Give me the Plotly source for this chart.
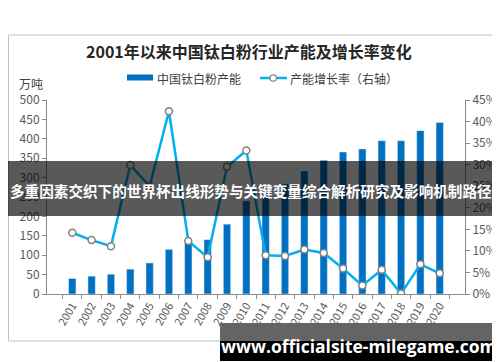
import plotly.graph_objects as go

years = [str(y) for y in range(2001, 2021)]
capacity = [40, 46, 51, 64, 80, 115, 131, 140, 180, 240, 261, 284, 317, 345, 366, 374, 395, 395, 421, 442]
growth = [0.142, 0.125, 0.111, 0.299, 0.25, 0.424, 0.123, 0.085, 0.295, 0.333,
          0.090, 0.088, 0.103, 0.095, 0.059, 0.0195, 0.056, 0.001, 0.069, 0.048]

title_text = "2001年以来中国钛白粉行业产能及增长率变化"
bar_name = "中国钛白粉产能"
line_name = "产能增长率（右轴）"
unit_text = "万吨"
banner_text = "多重因素交织下的世界杯出线形势与关键变量综合解析研究及影响机制路径"
wm_text = "www.officialsite-milegame.com"

W, H = 500, 362
L, R, T, B = 39, 43, 92, 76
PW, PH = W - L - R, H - T - B

def px(x):
    return (x - L) / PW

def py(y):
    return (H - B - y) / PH

FONT = "Noto Sans CJK SC, Noto Sans, sans-serif"
BAR_C = "#0070C0"
LINE_C = "#00B0F0"
AX_C = "#8c8c8c"
TXT_C = "#595959"

fig = go.Figure()
fig.add_trace(go.Bar(x=years, y=capacity, name=bar_name, marker_color=BAR_C,
                     yaxis="y", showlegend=False))
fig.add_trace(go.Scatter(x=years, y=growth, name=line_name, mode="lines+markers",
                         line=dict(color=LINE_C, width=2.5),
                         marker=dict(symbol="circle", size=7, color="white",
                                     line=dict(color="#808080", width=1.5)),
                         yaxis="y2", showlegend=False))

shapes = []
annotations = []

# outer border
shapes.append(dict(type="rect", xref="paper", yref="paper",
                   x0=px(0.5), x1=px(498), y0=py(27), y1=py(333),
                   line=dict(color="#c0c0c0", width=1), fillcolor="rgba(0,0,0,0)", layer="below"))

# title
annotations.append(dict(text="<b>" + title_text + "</b>", xref="paper", yref="paper",
                        x=px(241), y=py(43), showarrow=False,
                        font=dict(family=FONT, size=16, color="#262626"),
                        xanchor="center", yanchor="middle"))
# unit
annotations.append(dict(text=unit_text, xref="paper", yref="paper",
                        x=px(23), y=py(75), showarrow=False,
                        font=dict(family=FONT, size=12, color="#404040"),
                        xanchor="center", yanchor="middle"))

# legend (manual)
shapes.append(dict(type="rect", xref="paper", yref="paper",
                   x0=px(119), x1=px(145), y0=py(72.5), y1=py(66.5),
                   line=dict(width=0), fillcolor=BAR_C))
annotations.append(dict(text=bar_name, xref="paper", yref="paper",
                        x=px(147), y=py(70), showarrow=False, align="left",
                        font=dict(family=FONT, size=12, color="#404040"),
                        xanchor="left", yanchor="middle"))
shapes.append(dict(type="line", xref="paper", yref="paper",
                   x0=px(252), x1=px(279), y0=py(70), y1=py(70),
                   line=dict(color=LINE_C, width=2.5)))
shapes.append(dict(type="circle", xref="paper", yref="paper",
                   x0=px(262), x1=px(268.5), y0=py(73.2), y1=py(66.8),
                   line=dict(color="#808080", width=1.2), fillcolor="white"))
annotations.append(dict(text=line_name, xref="paper", yref="paper",
                        x=px(280), y=py(70), showarrow=False, align="left",
                        font=dict(family=FONT, size=12, color="#404040"),
                        xanchor="left", yanchor="middle"))

# banner overlay
shapes.append(dict(type="rect", xref="paper", yref="paper",
                   x0=px(0), x1=px(500), y0=py(208), y1=py(153),
                   line=dict(width=0), fillcolor="rgba(0,0,0,0.65)", layer="above"))
annotations.append(dict(text="<b>" + banner_text + "</b>", xref="paper", yref="paper",
                        x=px(243), y=py(182), showarrow=False,
                        font=dict(family=FONT, size=14.6, color="white"),
                        xanchor="center", yanchor="middle"))

# watermark
shapes.append(dict(type="rect", xref="paper", yref="paper",
                   x0=px(212), x1=px(491), y0=py(333), y1=py(315),
                   line=dict(width=0), fillcolor="#646464", layer="above"))
shapes.append(dict(type="rect", xref="paper", yref="paper",
                   x0=px(212), x1=px(491), y0=py(353), y1=py(333),
                   line=dict(width=0), fillcolor="#000000", layer="above"))
annotations.append(dict(text="<b>" + wm_text + "</b>", xref="paper", yref="paper",
                        x=px(350.5), y=py(338), showarrow=False,
                        font=dict(family="Open Sans, DejaVu Sans, sans-serif", size=17.5, color="white"),
                        xanchor="center", yanchor="middle"))

fig.update_layout(
    width=W, height=H, autosize=False,
    margin=dict(l=L, r=R, t=T, b=B, pad=0),
    paper_bgcolor="white", plot_bgcolor="white",
    font=dict(family=FONT, size=12, color=TXT_C),
    bargap=0.62,
    xaxis=dict(type="category", showgrid=False, showline=True, linecolor=AX_C, linewidth=1,
               ticks="outside", ticklen=4, tickcolor=AX_C, tickson="boundaries",
               tickangle=-60, tickfont=dict(size=11, color=TXT_C), zeroline=False),
    yaxis=dict(range=[0, 500], dtick=50, showgrid=False, showline=True, linecolor=AX_C,
               linewidth=1, ticks="outside", ticklen=4, tickcolor=AX_C,
               tickfont=dict(size=12, color=TXT_C), zeroline=False),
    yaxis2=dict(range=[0, 0.45], dtick=0.05, tickformat=".0%", overlaying="y", side="right",
                showgrid=False, showline=True, linecolor=AX_C, linewidth=1, ticks="outside",
                ticklen=4, tickcolor=AX_C, tickfont=dict(size=12, color=TXT_C), zeroline=False),
    shapes=shapes, annotations=annotations,
)

fig.write_html("out.html")
